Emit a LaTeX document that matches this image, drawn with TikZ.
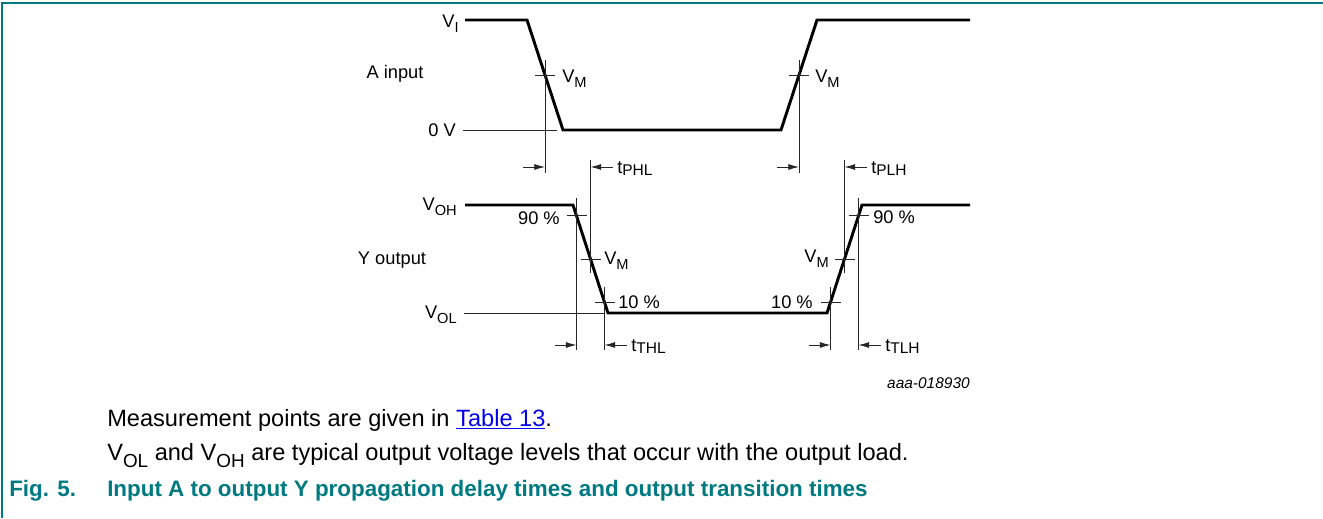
\documentclass[tikz,border=0pt]{standalone}
\usepackage{fontspec}
\setmainfont{Liberation Sans}
\usetikzlibrary{calc,positioning,arrows.meta}
\definecolor{nxpteal}{RGB}{0,122,128}
\definecolor{linkblue}{RGB}{0,0,238}
\newcommand{\sbs}[1]{\raisebox{-0.3em}{\scalebox{0.8}{#1}}}
\newcommand{\tsb}[1]{\raisebox{-0.12em}{\scalebox{0.85}{#1}}}

\begin{document}
\begin{tikzpicture}[x=0.75pt,y=-0.75pt]
  \tikzstyle{wave}=[line width=2.2pt,line join=miter]
  \tikzstyle{guide}=[line width=0.6pt,black!85]
  \tikzstyle{dim}=[guide,-{Latex[length=8pt,width=4.5pt]}]
  \tikzstyle{lbl}=[font=\fontsize{13.7}{16}\selectfont,inner sep=0pt]
  \tikzstyle{tlbl}=[lbl,inner xsep=3pt]
  \tikzstyle{body}=[font=\fontsize{17.7}{21}\selectfont,inner sep=0pt]
  \tikzstyle{caption}=[font=\fontsize{16.8}{21}\selectfont\bfseries,text=nxpteal,inner sep=0pt]
  \useasboundingbox (0,0) rectangle (1323,518);
  \draw[nxpteal,line width=1.5pt] (2,518) -- (2,3) -- (1323,3);

  % waveforms
  \foreach \name/\x/\y in {a0/465/20, a1/527/20, a2/563/130, a3/781/130, a4/817/20, a5/970/20,
                           y0/465/205, y1/573/205, y2/608/313, y3/827/313, y4/862/205, y5/970/205}
    \coordinate (\name) at (\x,\y);
  \draw[wave] (a0) -- (a1) -- (a2) -- (a3) -- (a4) -- (a5);
  \draw[wave] (y0) -- (y1) -- (y2) -- (y3) -- (y4) -- (y5);

  % measurement points on the edges
  \coordinate (vmA) at ($(a1)!0.5!(a2)$);
  \coordinate (vmB) at ($(a3)!0.5!(a4)$);
  \coordinate (hiF) at ($(y1)!0.1!(y2)$);
  \coordinate (vmF) at ($(y1)!0.5!(y2)$);
  \coordinate (loF) at ($(y1)!0.9!(y2)$);
  \coordinate (loR) at ($(y3)!0.1!(y4)$);
  \coordinate (vmR) at ($(y3)!0.5!(y4)$);
  \coordinate (hiR) at ($(y3)!0.9!(y4)$);
  \foreach \p in {vmA,vmB,hiF,vmF,loF,loR,vmR,hiR}
    \draw[guide] ([xshift=-7.5pt]\p) -- ([xshift=7.5pt]\p);
  \foreach \p/\top/\bot in {vmA/60/173, vmB/60/173, vmF/160/273, vmR/160/273,
                            hiF/198/350, loF/287/350, loR/287/350, hiR/198/350}
    \draw[guide] (\p |- 0,\top) -- (\p |- 0,\bot);

  % level labels
  \node[lbl,anchor=base east] (vi) at (459,27) {V\sbs{I}};
  \node[lbl,anchor=base] (ain) at (395,78) {A input};
  \node[lbl,anchor=base east] (zero) at (456,136) {0 V};
  \draw[guide] ([xshift=5pt]zero.east |- a2) -- ([xshift=-4.5pt]a2);
  \node[lbl,anchor=base east] (voh) at (457,210) {V\sbs{OH}};
  \node[lbl,anchor=base] (yout) at (392,264) {Y output};
  \node[lbl,anchor=base east] (vol) at (457,318) {V\sbs{OL}};
  \draw[guide] ([xshift=5pt]vol.east |- y2) -- (loF |- y2);

  % edge labels
  \node[lbl,anchor=base west] (vmAl) at (562,82) {V\sbs{M}};
  \node[lbl,anchor=base west] (vmBl) at (815,82) {V\sbs{M}};
  \node[lbl,anchor=base east] (hiFl) at (560,224) {90 \%};
  \node[lbl,anchor=base west] (vmFl) at (604,264) {V\sbs{M}};
  \node[lbl,anchor=base west] (loFl) at (618,308) {10 \%};
  \node[lbl,anchor=base east] (loRl) at (813,308) {10 \%};
  \node[lbl,anchor=base east] (vmRl) at (829,262) {V\sbs{M}};
  \node[lbl,anchor=base west] (hiRl) at (873,223) {90 \%};

  % delay and transition times
  \coordinate (pA) at (vmA |- 0,167);
  \coordinate (pB) at (vmB |- 0,167);
  \coordinate (pF) at (vmF |- 0,167);
  \coordinate (pR) at (vmR |- 0,167);
  \draw[dim] ([xshift=-16.5pt]pA) -- (pA);
  \draw[dim] ([xshift=-16.5pt]pB) -- (pB);
  \node[tlbl,anchor=base west] (tphl) at (613,173) {t\tsb{PHL}};
  \node[tlbl,anchor=base west] (tplh) at (867,173) {t\tsb{PLH}};
  \draw[dim] (tphl.base west |- pF) -- (pF);
  \draw[dim] (tplh.base west |- pR) -- (pR);

  \coordinate (qhF) at (hiF |- 0,345);
  \coordinate (qlF) at (loF |- 0,345);
  \coordinate (qlR) at (loR |- 0,345);
  \coordinate (qhR) at (hiR |- 0,345);
  \draw[dim] ([xshift=-16.5pt]qhF) -- (qhF);
  \draw[dim] ([xshift=-16.5pt]qlR) -- (qlR);
  \node[tlbl,anchor=base west] (tthl) at (627,351) {t\tsb{THL}};
  \node[tlbl,anchor=base west] (ttlh) at (881,351) {t\tsb{TLH}};
  \draw[dim] (tthl.base west |- qlF) -- (qlF);
  \draw[dim] (ttlh.base west |- qhR) -- (qhR);

  \node[lbl,font=\fontsize{11.6}{14}\selectfont\itshape,anchor=base east] (code) at (970,388) {aaa-018930};

  % notes and caption
  \node[body,anchor=base west] (note1) at (107,426) {Measurement points are given in \textcolor{linkblue}{\underline{Table 13}}.};
  \node[body,anchor=base west] (note2) at (107,460) {V\sbs{OL} and V\sbs{OH} are typical output voltage levels that occur with the output load.};
  \node[caption,anchor=base west] (fignum) at (9,496) {Fig. 5.};
  \node[caption,anchor=base west] (figtitle) at (107,496) {Input A to output Y propagation delay times and output transition times};
\end{tikzpicture}
\end{document}
